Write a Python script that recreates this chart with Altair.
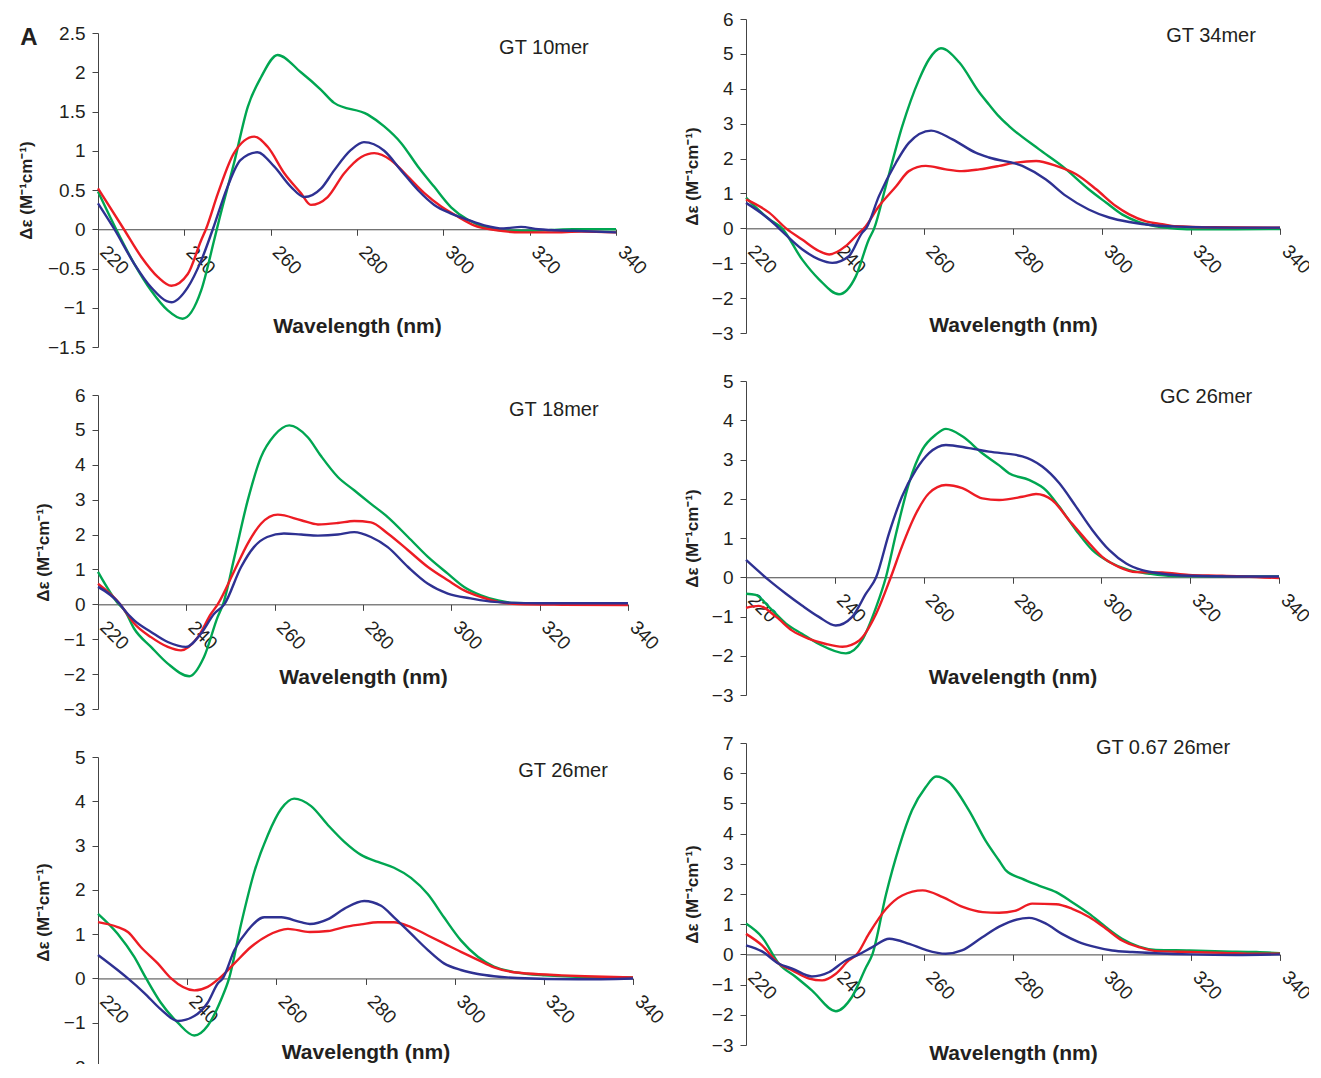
import altair as alt
import pandas as pd

FONT = "Liberation Sans"
SERIES = ["green", "red", "blue"]
COLORS = ["#00a651", "#ed1c24", "#2e3192"]
X_TICKS = [220, 240, 260, 280, 300, 320, 340]

# ---------------- Panel 1: GT 10mer ----------------
P1_GREEN_NM = [220, 224.2, 228.4, 232.3, 236.1, 239.6, 243.9, 246.9, 248.2, 251.5, 254.7, 257.8, 261.6, 267, 271.6, 274.7, 282.5, 286.3, 290.2, 294.1, 297.9, 301.8, 305.7, 309.5, 315, 320, 325, 330, 340]
P1_GREEN = [0.48, 0.0, -0.44, -0.78, -1.03, -1.14, -0.78, -0.14, 0.15, 0.84, 1.56, 1.94, 2.22, 2.0, 1.78, 1.61, 1.46, 1.31, 1.10, 0.80, 0.54, 0.28, 0.12, 0.03, -0.02, -0.02, -0.01, 0.0, 0.0]
P1_RED_NM = [220, 226, 230, 233.9, 237, 240.8, 243.9, 245, 247.8, 251.5, 256.2, 259.3, 263.2, 267, 269.3, 273.2, 277, 281, 284, 287.9, 291.8, 295.6, 299.5, 303.4, 307.1, 312, 318, 325, 332, 340]
P1_RED = [0.52, 0.0, -0.35, -0.61, -0.72, -0.57, -0.14, 0.0, 0.46, 0.97, 1.18, 1.05, 0.71, 0.46, 0.31, 0.41, 0.71, 0.92, 0.97, 0.88, 0.67, 0.46, 0.29, 0.16, 0.05, -0.01, -0.04, -0.04, -0.03, -0.04]
P1_BLUE_NM = [220, 223.8, 228.4, 232.3, 237, 240.8, 243.9, 246.6, 250, 253, 256.9, 260.8, 264.7, 267.8, 271.7, 274.7, 278.6, 281.6, 286.3, 290.2, 294.1, 297.9, 301.8, 305.7, 309.5, 314, 318, 322, 330, 340]
P1_BLUE = [0.33, 0.0, -0.44, -0.74, -0.93, -0.74, -0.40, 0.0, 0.54, 0.88, 0.98, 0.80, 0.54, 0.41, 0.52, 0.75, 1.01, 1.11, 1.0, 0.75, 0.5, 0.31, 0.20, 0.12, 0.05, 0.01, 0.03, 0.0, -0.02, -0.04]

# ---------------- Panel 2: GT 34mer ----------------
P2_GREEN_NM = [220, 225.2, 228.1, 232.6, 236.4, 240.9, 244.7, 247.6, 248.8, 251.4, 255.1, 258.9, 261.1, 263.8, 267.9, 272.4, 274.6, 276.9, 279.1, 285.8, 291, 297, 300.9, 304.5, 308.3, 312.1, 315.8, 320, 330, 340]
P2_GREEN = [0.88, 0.26, 0.0, -0.89, -1.46, -1.89, -1.37, -0.32, 0.0, 1.2, 2.92, 4.27, 4.84, 5.16, 4.76, 3.9, 3.55, 3.2, 2.93, 2.27, 1.79, 1.12, 0.74, 0.40, 0.18, 0.06, 0.0, -0.03, -0.03, -0.02]
P2_RED_NM = [220, 225.2, 229, 232.6, 236.4, 238.7, 242.4, 245.4, 246.5, 249.9, 253.7, 256.6, 260.4, 264.9, 268.5, 272.4, 276.9, 280, 285.2, 289.7, 294.2, 298.7, 303.1, 306.1, 309.9, 313.5, 316.6, 325, 340]
P2_RED = [0.83, 0.45, 0.0, -0.32, -0.65, -0.75, -0.51, -0.13, 0.0, 0.64, 1.2, 1.64, 1.79, 1.69, 1.64, 1.69, 1.79, 1.87, 1.93, 1.79, 1.55, 1.12, 0.64, 0.40, 0.2, 0.12, 0.06, 0.03, 0.02]
P2_BLUE_NM = [220, 225.2, 227.4, 232.6, 236.4, 239.4, 243.1, 246.1, 247, 249.9, 253.7, 256.6, 261.6, 266.4, 271.6, 274.6, 282.1, 287.4, 291.9, 297, 301.6, 306.1, 312.1, 316.6, 330, 340]
P2_BLUE = [0.73, 0.26, 0.0, -0.6, -0.89, -0.99, -0.8, -0.13, 0.0, 0.93, 1.88, 2.45, 2.8, 2.55, 2.17, 2.03, 1.79, 1.4, 0.93, 0.54, 0.31, 0.18, 0.08, 0.05, 0.02, 0.02]

# ---------------- Panel 3: GT 18mer ----------------
P3_GREEN_NM = [220, 224.7, 226, 228.2, 232, 235.8, 240.7, 244, 247.1, 248.3, 250.9, 253.9, 256.9, 259.9, 263.3, 267.5, 270.5, 274.3, 278, 281.8, 285.6, 290.2, 294.7, 299.2, 302.9, 306.7, 310.6, 314.2, 325, 340]
P3_GREEN = [0.93, 0.0, -0.17, -0.70, -1.22, -1.70, -2.06, -1.51, -0.36, 0.0, 1.36, 2.98, 4.22, 4.84, 5.13, 4.79, 4.25, 3.65, 3.27, 2.88, 2.5, 1.93, 1.36, 0.88, 0.5, 0.26, 0.11, 0.04, 0.02, 0.02]
P3_RED_NM = [220, 225, 226, 228.2, 232, 235.8, 238.8, 242.6, 245.6, 247.1, 250.9, 253.9, 256.9, 260.7, 266, 269.8, 274.3, 278, 281.8, 285.6, 290.2, 294.7, 299.2, 302.9, 306.7, 310.6, 315, 325, 340]
P3_RED = [0.59, 0.0, -0.17, -0.55, -0.94, -1.22, -1.32, -0.94, -0.27, 0.0, 0.97, 1.74, 2.31, 2.57, 2.41, 2.29, 2.33, 2.39, 2.35, 2.03, 1.55, 1.07, 0.69, 0.40, 0.21, 0.07, 0.01, -0.01, -0.02]
P3_BLUE_NM = [220, 225, 226, 228.2, 232, 235.8, 239.9, 243.3, 246.3, 248.6, 252.4, 255.3, 258.3, 262.1, 266, 269.8, 274.3, 278, 281.8, 285.6, 290.2, 294.7, 299.2, 304.4, 309.8, 320, 340]
P3_BLUE = [0.5, 0.0, -0.17, -0.46, -0.79, -1.08, -1.22, -0.84, -0.27, 0.0, 1.07, 1.64, 1.93, 2.03, 2.0, 1.97, 2.0, 2.07, 1.93, 1.64, 1.07, 0.59, 0.31, 0.17, 0.07, 0.03, 0.03]

# ---------------- Panel 4: GC 26mer ----------------
P4_GREEN_NM = [220, 222.2, 225.2, 229, 232.6, 236.4, 242.5, 246.1, 249.3, 251.5, 253.8, 256.7, 259.7, 262.7, 265, 268.7, 273.2, 277, 279.2, 283.7, 287.5, 290.5, 294.3, 298, 301.8, 306.3, 310.8, 316, 330, 340]
P4_GREEN = [-0.42, -0.45, -0.76, -1.18, -1.44, -1.70, -1.94, -1.61, -0.76, 0.0, 1.12, 2.40, 3.25, 3.63, 3.78, 3.59, 3.16, 2.85, 2.65, 2.48, 2.22, 1.80, 1.20, 0.69, 0.39, 0.18, 0.09, 0.03, 0.02, 0.02]
P4_RED_NM = [220, 222.9, 226.8, 230.4, 234.2, 238, 241.7, 245.5, 249.3, 252.6, 255.1, 258.3, 261.2, 265, 268.7, 273.2, 277, 282.2, 285.3, 288.9, 292.7, 296.6, 300.2, 304, 307.8, 313.7, 319.7, 327.2, 340]
P4_RED = [-0.78, -0.73, -1.01, -1.36, -1.57, -1.70, -1.77, -1.61, -0.93, 0.0, 0.78, 1.63, 2.14, 2.35, 2.27, 2.01, 1.97, 2.05, 2.12, 1.97, 1.46, 0.95, 0.52, 0.26, 0.13, 0.12, 0.06, 0.04, -0.02]
P4_BLUE_NM = [220, 225.2, 229, 232.6, 236.4, 240.2, 243.9, 247, 249.3, 252.2, 255.1, 258.3, 261.2, 265, 270.2, 274.7, 282.2, 286.7, 290.5, 294.3, 298, 301.8, 305.6, 309.2, 313.7, 319.7, 330, 340]
P4_BLUE = [0.44, -0.08, -0.42, -0.72, -1.01, -1.23, -1.01, -0.42, 0.0, 1.12, 2.05, 2.74, 3.16, 3.37, 3.29, 3.2, 3.08, 2.82, 2.40, 1.80, 1.20, 0.69, 0.35, 0.18, 0.09, 0.04, 0.02, 0.02]

# ---------------- Panel 5: GT 26mer ----------------
P5_GREEN_NM = [220, 224.4, 228.1, 230.8, 234.1, 237.9, 241.6, 244.6, 247.6, 249.4, 252.1, 255.1, 258.1, 261.1, 264, 267.8, 271.6, 275.2, 279, 282.8, 286.4, 290.2, 294, 297.6, 301.4, 305.2, 308.8, 312.6, 316.4, 320.2, 330, 340]
P5_GREEN = [1.46, 1.01, 0.49, 0.0, -0.55, -1.0, -1.29, -1.07, -0.48, 0.0, 1.23, 2.42, 3.24, 3.83, 4.06, 3.89, 3.46, 3.09, 2.79, 2.63, 2.50, 2.27, 1.90, 1.38, 0.86, 0.49, 0.27, 0.16, 0.10, 0.07, 0.03, 0.02]
P5_RED_NM = [220, 224.4, 226.7, 229.6, 233.4, 236.4, 241.6, 244.6, 247.2, 250.6, 254.3, 258.1, 262.6, 267.5, 271.6, 275.2, 279, 282.8, 286.4, 290.2, 294, 297.6, 301.4, 305.2, 308.8, 312.6, 316.4, 324, 329.2, 340]
P5_RED = [1.27, 1.16, 1.05, 0.71, 0.34, 0.0, -0.27, -0.19, 0.0, 0.34, 0.71, 0.97, 1.12, 1.05, 1.07, 1.16, 1.22, 1.27, 1.27, 1.16, 0.97, 0.79, 0.60, 0.42, 0.25, 0.15, 0.11, 0.07, 0.05, 0.02]
P5_BLUE_NM = [220, 224.4, 226.7, 230.4, 234.1, 237.9, 241.6, 244.6, 246.9, 248, 250.6, 253.6, 257.3, 261.1, 265.5, 267.5, 271.6, 275.2, 279.7, 283.5, 286.4, 290.2, 294, 297.6, 301.4, 305.2, 308.8, 314, 327.7, 340]
P5_BLUE = [0.53, 0.19, 0.0, -0.33, -0.70, -0.96, -0.85, -0.55, -0.11, 0.0, 0.64, 1.09, 1.38, 1.38, 1.27, 1.23, 1.34, 1.57, 1.75, 1.64, 1.38, 1.01, 0.64, 0.34, 0.19, 0.10, 0.05, 0.01, -0.02, 0.0]

# ---------------- Panel 6: GT 0.67 26mer ----------------
P6_GREEN_NM = [220, 223.6, 227.4, 231.2, 234.8, 240.2, 243.8, 247, 248.4, 251.5, 254.4, 257.3, 260.4, 262.7, 265.6, 270.1, 273.9, 276.9, 278.4, 282, 285.8, 289.7, 293.3, 297.1, 300.9, 304.5, 308.3, 312.1, 319.6, 327.2, 334.7, 340]
P6_GREEN = [1.02, 0.57, -0.31, -0.75, -1.19, -1.88, -1.41, -0.42, 0.0, 2.01, 3.55, 4.77, 5.54, 5.89, 5.71, 4.77, 3.75, 3.1, 2.78, 2.51, 2.28, 2.06, 1.73, 1.35, 0.90, 0.52, 0.26, 0.15, 0.13, 0.10, 0.08, 0.04]
P6_RED_NM = [220, 223.6, 227.4, 230.4, 234.2, 237.1, 240.2, 243.1, 244.9, 247.6, 251.5, 255.1, 259.7, 264.2, 268.7, 273.2, 276.9, 280.4, 284.3, 289.7, 293.3, 297.1, 300.9, 304.5, 308.3, 312.1, 319.6, 327.2, 334.7, 340]
P6_RED = [0.68, 0.30, -0.31, -0.53, -0.80, -0.86, -0.64, -0.2, 0.0, 0.68, 1.51, 1.95, 2.12, 1.90, 1.57, 1.40, 1.38, 1.44, 1.68, 1.66, 1.51, 1.24, 0.85, 0.46, 0.24, 0.11, 0.08, 0.05, 0.02, 0.02]
P6_BLUE_NM = [220, 223.6, 227.4, 230.4, 234.8, 238.6, 242.4, 245.4, 248.4, 252.2, 256.7, 260.4, 264.9, 268.5, 273.1, 276.9, 279.1, 283.6, 287.4, 291, 294.8, 298.6, 302.3, 306.8, 312.1, 320, 330, 340]
P6_BLUE = [0.3, 0.10, -0.31, -0.47, -0.73, -0.59, -0.2, 0.0, 0.24, 0.52, 0.35, 0.15, 0.02, 0.13, 0.57, 0.92, 1.07, 1.21, 1.02, 0.68, 0.41, 0.24, 0.13, 0.08, 0.04, 0.0, -0.02, 0.0]

# Panel labels and their positions (data coordinates)
PANEL_NAMES = ["GT 10mer", "GT 34mer", "GT 18mer", "GC 26mer", "GT 26mer", "GT 0.67 26mer"]
NAME_NM = [323.3, 324.5, 323.2, 323.6, 324.3, 313.7]
NAME_DE = [2.31, 5.5, 5.56, 4.6, 4.68, 6.82]

Y_DOMAINS = [[-1.5, 2.5], [-3, 6], [-3, 6], [-3, 5], [-2, 5], [-3, 7]]
Y_STEPS = [0.5, 1, 1, 1, 1, 1]

AXIS_COLOR = "#444444"
TEXT_COLOR = "#231f20"


def make_panel(i, series, width, height, xtitle_y, ytitle_x, letter=None):
    rows = []
    for name, nms, vals in series:
        for a, b in zip(nms, vals):
            rows.append({"nm": a, "de": b, "series": name})
    df = pd.DataFrame(rows)
    ymin, ymax = Y_DOMAINS[i]
    step = Y_STEPS[i]
    n = int(round((ymax - ymin) / step))
    yvals = [round(ymin + k * step, 2) for k in range(n + 1)]
    zero_from_top = height * ymax / (ymax - ymin)
    offset = -(height - zero_from_top)

    xscale = alt.Scale(domain=[220, 340], nice=False, zero=False)
    yscale = alt.Scale(domain=[ymin, ymax], nice=False, zero=False)

    xaxis = alt.Axis(
        values=X_TICKS, title="Wavelength (nm)", offset=offset,
        labelAngle=45, labelAlign="left", labelBaseline="top", labelPadding=7,
        labelOffset=11, labelFlush=False, labelOverlap=False, tickSize=6,
        domainColor=AXIS_COLOR, tickColor=AXIS_COLOR, labelColor=TEXT_COLOR,
        labelFont=FONT, titleFont=FONT,
        labelFontSize=19, titleFontSize=21, titleFontWeight="bold",
        titleColor=TEXT_COLOR, titleY=xtitle_y, titleBaseline="middle",
        grid=False,
    )
    yaxis = alt.Axis(
        values=yvals, tickCount=len(yvals) + 2, format="~g", title="Δε (M⁻¹cm⁻¹)", tickSize=6,
        labelPadding=7, labelOverlap=False, labelFlush=False,
        domainColor=AXIS_COLOR, tickColor=AXIS_COLOR,
        labelFont=FONT, titleFont=FONT,
        labelColor=TEXT_COLOR, labelFontSize=19, titleFontSize=17,
        titleFontWeight="bold", titleColor=TEXT_COLOR, titleX=ytitle_x,
        titleBaseline="middle", grid=False,
    )

    lines = alt.Chart(df).mark_line(strokeWidth=2.4, interpolate="monotone").encode(
        x=alt.X("nm:Q", scale=xscale, axis=xaxis),
        y=alt.Y("de:Q", scale=yscale, axis=yaxis),
        color=alt.Color("series:N", scale=alt.Scale(domain=SERIES, range=COLORS), legend=None),
    )
    tdf = pd.DataFrame({"nm": [NAME_NM[i]], "de": [NAME_DE[i]], "label": [PANEL_NAMES[i]]})
    txt = alt.Chart(tdf).mark_text(fontSize=20, font=FONT, color=TEXT_COLOR).encode(
        x=alt.X("nm:Q", scale=xscale),
        y=alt.Y("de:Q", scale=yscale),
        text="label:N",
    )
    layers = [lines, txt]
    if letter is not None:
        ldf = pd.DataFrame({"nm": [204.0], "de": [ymax - 0.06], "label": [letter]})
        layers.append(
            alt.Chart(ldf).mark_text(fontSize=24, font=FONT, fontWeight="bold", color=TEXT_COLOR).encode(
                x=alt.X("nm:Q", scale=xscale), y=alt.Y("de:Q", scale=yscale), text="label:N"
            )
        )
    return alt.layer(*layers).properties(width=width, height=height)


p1 = make_panel(0, [("green", P1_GREEN_NM, P1_GREEN), ("red", P1_RED_NM, P1_RED), ("blue", P1_BLUE_NM, P1_BLUE)], 518, 314, 97, -72, letter="A")
p2 = make_panel(1, [("green", P2_GREEN_NM, P2_GREEN), ("red", P2_RED_NM, P2_RED), ("blue", P2_BLUE_NM, P2_BLUE)], 534, 314, 97, -54)
p3 = make_panel(2, [("green", P3_GREEN_NM, P3_GREEN), ("red", P3_RED_NM, P3_RED), ("blue", P3_BLUE_NM, P3_BLUE)], 530, 314, 73, -55)
p4 = make_panel(3, [("green", P4_GREEN_NM, P4_GREEN), ("red", P4_RED_NM, P4_RED), ("blue", P4_BLUE_NM, P4_BLUE)], 533, 314, 100, -54)
p5 = make_panel(4, [("green", P5_GREEN_NM, P5_GREEN), ("red", P5_RED_NM, P5_RED), ("blue", P5_BLUE_NM, P5_BLUE)], 535, 310, 74, -55)
p6 = make_panel(5, [("green", P6_GREEN_NM, P6_GREEN), ("red", P6_RED_NM, P6_RED), ("blue", P6_BLUE_NM, P6_BLUE)], 534, 302, 99, -54)

# invisible spacer: the left column sits 14 px lower than the right one
spacer = alt.Chart(pd.DataFrame({"v": [0]})).mark_point(opacity=0).encode(
    x=alt.value(0), y=alt.value(0)
).properties(width=1, height=14)

left_col = alt.vconcat(spacer, alt.vconcat(p1, p3, p5, spacing=48, bounds="flush"), spacing=0, bounds="flush")
right_col = alt.vconcat(p2, p4, p6, spacing=48, bounds="flush")

chart = alt.hconcat(left_col, right_col, spacing=16).properties(
    padding={"left": 9, "top": 2, "right": -5, "bottom": -13},
    background="white",
).configure_view(strokeWidth=0, stroke="transparent").configure_axis(
    labelFont=FONT, titleFont=FONT
).configure_text(font=FONT)

chart.save("out.html", embed_options={"renderer": "svg", "actions": False})
